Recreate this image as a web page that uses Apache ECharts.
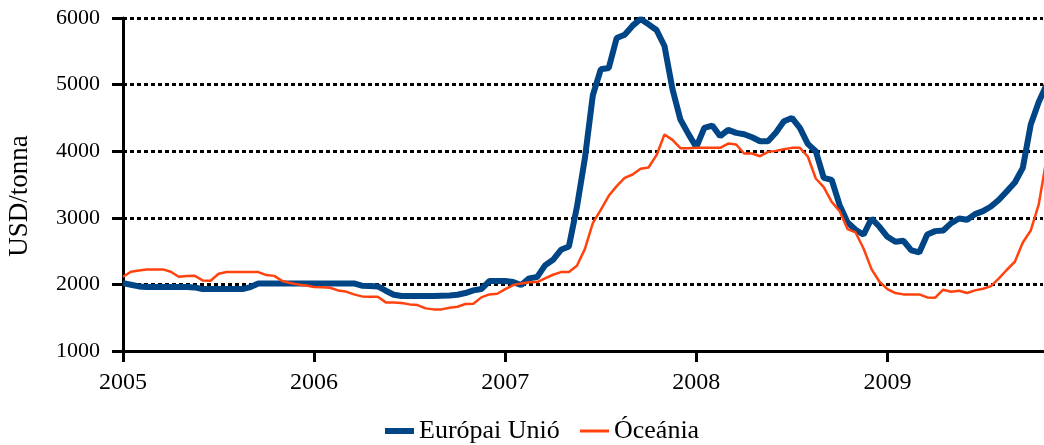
<!DOCTYPE html>
<html>
<head>
<meta charset="utf-8">
<script src="https://cdn.jsdelivr.net/npm/echarts@6/dist/echarts.min.js"></script>
<style>
html,body{margin:0;padding:0;background:#fff;}
#chart{width:1044px;height:445px;}
</style>
</head>
<body>
<div id="chart"></div>
<script>
// Semi-monthly observations starting January 2005 (USD/tonna)
const startYear = 2005;
const stepYears = 1 / 24;
const yearTicks = [2005, 2006, 2007, 2008, 2009];
const seriesNames = ['Európai Unió', 'Óceánia'];
const yAxisTitle = 'USD/tonna';

const euValues = [
  2020, 1995, 1970, 1960, 1960, 1960, 1960, 1960, 1960, 1955,
  1930, 1930, 1930, 1930, 1930, 1930, 1960, 2015, 2015, 2015,
  2015, 2015, 2015, 2015, 2015, 2015, 2015, 2015, 2015, 2015,
  1980, 1975, 1970, 1905, 1845, 1825, 1825, 1825, 1825, 1825,
  1830, 1835, 1845, 1870, 1910, 1930, 2050, 2050, 2050, 2035,
  1990, 2090, 2110, 2285, 2370, 2520, 2570, 3160, 3890, 4840,
  5230, 5250, 5700, 5750, 5885, 5985, 5905, 5820, 5580, 4935,
  4475, 4260, 4060, 4350, 4385, 4225, 4320, 4275, 4255, 4210,
  4150, 4150, 4280, 4450, 4500, 4350, 4110, 4000, 3600, 3570,
  3190, 2930, 2820, 2745, 2990, 2865, 2715, 2640, 2655, 2510,
  2480, 2750, 2800, 2810, 2920, 2990, 2970, 3055, 3100, 3170,
  3270, 3400, 3530, 3750, 4400, 4740, 5000
];

const oceaniaValues = [
  2115, 2190, 2210, 2225, 2225, 2225, 2190, 2115, 2125, 2130,
  2060, 2055, 2160, 2185, 2185, 2185, 2185, 2185, 2140, 2128,
  2050, 2020, 2000, 1985, 1962, 1958, 1950, 1910, 1892, 1850,
  1820, 1815, 1815, 1730, 1727, 1720, 1700, 1690, 1640, 1625,
  1625, 1650, 1665, 1705, 1710, 1805, 1850, 1860, 1930, 1990,
  2015, 2033, 2035, 2090, 2145, 2185, 2185, 2280, 2530, 2920,
  3120, 3330, 3475, 3600, 3650, 3735, 3755, 3940, 4250, 4170,
  4045, 4045, 4050, 4050, 4050, 4050, 4115, 4100, 3965, 3965,
  3925, 3990, 4005, 4030, 4050, 4050, 3920, 3590, 3460, 3240,
  3100, 2830, 2780, 2540, 2230, 2040, 1930, 1870, 1850, 1850,
  1850, 1805, 1800, 1920, 1890, 1905, 1870, 1910, 1935, 1975,
  2090, 2220, 2340, 2630, 2810, 3200, 3900
];

const toPoints = vals => vals.map((v, i) => [startYear + i * stepYears, v]);

const FONT = '"Liberation Serif", "DejaVu Serif", serif';
const BLUE = '#004586';
const ORANGE = '#ff420e';

const legendText = {fontFamily: FONT, fontSize: 26, color: '#000'};

const chart = echarts.init(document.getElementById('chart'), null, {renderer: 'canvas'});
chart.setOption({
  animation: false,
  backgroundColor: '#ffffff',
  grid: {left: 123, right: 1, top: 18, bottom: 94, containLabel: false},
  graphic: [{
    type: 'text',
    x: 20, y: 196,
    rotation: Math.PI / 2,
    style: {
      text: yAxisTitle,
      font: '27px "Liberation Serif", "DejaVu Serif", serif',
      fill: '#000',
      align: 'center',
      verticalAlign: 'middle'
    }
  }],
  legend: [
    {
      top: 413, left: 380,
      icon: 'rect', itemWidth: 29, itemHeight: 6,
      textStyle: legendText,
      data: [seriesNames[0]]
    },
    {
      top: 413, left: 575,
      icon: 'rect', itemWidth: 29, itemHeight: 3,
      textStyle: legendText,
      data: [seriesNames[1]]
    }
  ],
  xAxis: {
    type: 'value',
    min: 2005,
    max: 2009.814,
    splitLine: {show: false},
    axisLine: {show: true, onZero: false, lineStyle: {color: '#000', width: 3}},
    axisTick: {show: true, length: 11, lineStyle: {color: '#000', width: 3}, customValues: yearTicks},
    axisLabel: {
      customValues: yearTicks,
      formatter: v => String(Math.round(v)),
      fontFamily: FONT, fontSize: 24, color: '#000', margin: 20
    }
  },
  yAxis: {
    type: 'value',
    min: 1000,
    max: 6000,
    interval: 1000,
    axisLine: {show: true, onZero: false, lineStyle: {color: '#000', width: 3}},
    axisTick: {show: true, length: 11, lineStyle: {color: '#000', width: 3}},
    axisLabel: {
      formatter: v => String(v),
      fontFamily: FONT, fontSize: 22, color: '#000', margin: 23
    },
    splitLine: {show: true, lineStyle: {color: '#000', width: 3, type: [4, 3]}}
  },
  series: [
    {
      name: seriesNames[0],
      type: 'line',
      showSymbol: false,
      symbol: 'none',
      clip: true,
      color: BLUE,
      itemStyle: {color: BLUE},
      lineStyle: {color: BLUE, width: 6},
      data: toPoints(euValues)
    },
    {
      name: seriesNames[1],
      type: 'line',
      showSymbol: false,
      symbol: 'none',
      clip: true,
      color: ORANGE,
      itemStyle: {color: ORANGE},
      lineStyle: {color: ORANGE, width: 2.5},
      data: toPoints(oceaniaValues)
    }
  ]
});
</script>
</body>
</html>
